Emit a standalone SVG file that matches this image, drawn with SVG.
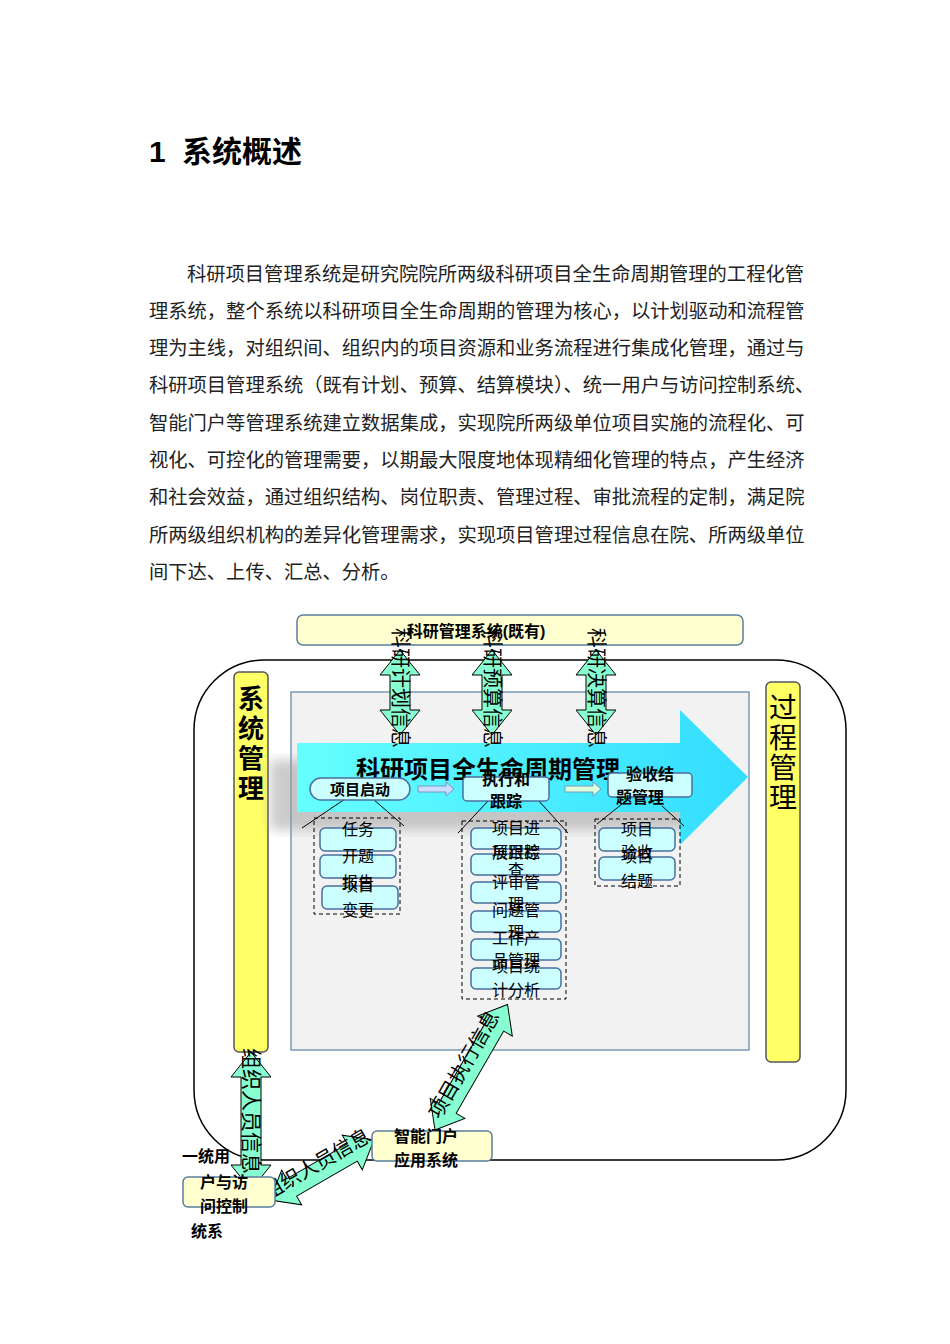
<svg xmlns="http://www.w3.org/2000/svg" width="950" height="1344" viewBox="0 0 950 1344">
<style>
.body{font-family:"Noto Sans CJK SC",serif;font-size:19.3px;fill:#222}
.t{font-family:"Liberation Sans","Noto Sans CJK SC",sans-serif;fill:#000}
.b{font-weight:bold}
.item{fill:#ccffff;stroke:#4a6fa0;stroke-width:1.5}
.arr{fill:#88ffd0;stroke:#000;stroke-width:1}
.dash{fill:none;stroke:#000;stroke-dasharray:4,3}
.ln{stroke:#000;stroke-width:1;fill:none}
.ybox{fill:#ffffd0;stroke:#5a7fa0;stroke-width:1.5}
</style>
<defs>
<linearGradient id="g" x1="0" x2="1"><stop offset="0" stop-color="#66ffff"/><stop offset="1" stop-color="#33ddff"/></linearGradient>
<filter id="sh"><feGaussianBlur stdDeviation="6"/></filter>
</defs>
<rect width="950" height="1344" fill="#fff"/>
<text x="149" y="162" class="t b" font-size="30">1</text>
<text x="182" y="162" class="t b" font-size="30">系统概述</text>
<g class="body">
<text x="187" y="281">科研项目管理系统是研究院院所两级科研项目全生命周期管理的工程化管</text>
<text x="149" y="318">理系统，整个系统以科研项目全生命周期的管理为核心，以计划驱动和流程管</text>
<text x="149" y="355">理为主线，对组织间、组织内的项目资源和业务流程进行集成化管理，通过与</text>
<text x="149" y="392">科研项目管理系统（既有计划、预算、结算模块）、统一用户与访问控制系统、</text>
<text x="149" y="430">智能门户等管理系统建立数据集成，实现院所两级单位项目实施的流程化、可</text>
<text x="149" y="467">视化、可控化的管理需要，以期最大限度地体现精细化管理的特点，产生经济</text>
<text x="149" y="504">和社会效益，通过组织结构、岗位职责、管理过程、审批流程的定制，满足院</text>
<text x="149" y="542">所两级组织机构的差异化管理需求，实现项目管理过程信息在院、所两级单位</text>
<text x="149" y="579">间下达、上传、汇总、分析。</text>
</g>
<g id="frame">
<rect x="194" y="660" width="652" height="500" rx="70" fill="none" stroke="#000" stroke-width="1.5"/>
<rect x="291" y="692" width="458" height="358" fill="#f2f2f2" stroke="#7a9ab8" stroke-width="1.5"/>
</g>
<g id="top-system">
<rect class="ybox" x="297" y="615" width="446" height="30" rx="6"/>
<text x="476" y="637" class="t b" font-size="16" text-anchor="middle">科研管理系统(既有)</text>
</g>
<g id="sys-mgmt">
<rect x="234" y="672" width="34" height="380" rx="5" fill="#ffff66" stroke="#555" stroke-width="1.5"/>
<text class="t b" font-size="26" text-anchor="middle"><tspan x="251" y="708">系</tspan><tspan x="251" y="738">统</tspan><tspan x="251" y="768">管</tspan><tspan x="251" y="798">理</tspan></text>
</g>
<g id="proc-mgmt">
<rect x="766" y="682" width="34" height="380" rx="5" fill="#ffff66" stroke="#555" stroke-width="1.5"/>
<text class="t" font-size="28" text-anchor="middle"><tspan x="783" y="718">过</tspan><tspan x="783" y="748">程</tspan><tspan x="783" y="778">管</tspan><tspan x="783" y="808">理</tspan></text>
</g>
<g id="lifecycle">
<rect x="270" y="760" width="420" height="70" fill="#999" opacity="0.5" filter="url(#sh)"/>
<polygon points="297,743 680,743 680,710 748,777 680,845 680,812 297,812" fill="url(#g)"/>
<text x="488" y="778" class="t b" font-size="24" text-anchor="middle">科研项目全生命周期管理</text>
</g>
<g id="connectors">
<polygon class="arr" points="400,650 420,675 410,675 410,710 420,710 400,735 380,710 390,710 390,675 380,675"/>
<polygon class="arr" points="492,650 512,675 502,675 502,710 512,710 492,735 472,710 482,710 482,675 472,675"/>
<polygon class="arr" points="596,650 616,675 606,675 606,710 616,710 596,735 576,710 586,710 586,675 576,675"/>
<polygon class="arr" points="251,1052 271,1077 261,1077 261,1165 271,1165 251,1190 231,1165 241,1165 241,1077 231,1077"/>
<polygon class="arr" transform="translate(270,1200) rotate(-30)" points="0,0 25,-20 25,-10 95,-10 95,-20 120,0 95,20 95,10 25,10 25,20"/>
<polygon class="arr" transform="translate(435,1130) rotate(-60)" points="0,0 25,-20 25,-10 120,-10 120,-20 145,0 120,20 120,10 25,10 25,20"/>
<polygon points="418,786 446,786 446,782 454,789 446,796 446,792 418,792" fill="#ccddff" stroke="#7a9ab8"/>
<polygon points="565,786 593,786 593,782 601,789 593,796 593,792 565,792" fill="#ddffdd" stroke="#7a9ab8"/>
<line class="ln" x1="345" y1="799" x2="302" y2="828"/><line class="ln" x1="373" y1="799" x2="404" y2="826"/>
<line class="ln" x1="489" y1="800" x2="458" y2="833"/><line class="ln" x1="538" y1="800" x2="568" y2="833"/>
<line class="ln" x1="632" y1="796" x2="597" y2="824"/><line class="ln" x1="662" y1="806" x2="684" y2="826"/>
<text class="t" font-size="20" transform="translate(393,628) rotate(90)">科研计划信息</text>
<text class="t" font-size="20" transform="translate(485,628) rotate(90)">科研预算信息</text>
<text class="t" font-size="20" transform="translate(589,628) rotate(90)">科研决算信息</text>
<text class="t" font-size="21" transform="translate(244,1048) rotate(90)">组织人员信息</text>
<text class="t" font-size="20" text-anchor="middle" transform="translate(320,1170) rotate(-30)">组织人员信息</text>
<text class="t" font-size="20" text-anchor="middle" transform="translate(470,1068) rotate(-60)">项目执行信息</text>
</g>
<g id="phase-start">
<rect class="item" x="310" y="778" width="100" height="22" rx="11"/>
<text x="360" y="795" class="t b" font-size="15" text-anchor="middle">项目启动</text>
</g>
<g id="phase-exec">
<rect class="item" x="463" y="777" width="86" height="24" rx="4"/>
<text class="t b" font-size="16" text-anchor="middle"><tspan x="506" y="785">执行和</tspan><tspan x="506" y="807">跟踪</tspan></text>
</g>
<g id="phase-accept">
<rect class="item" x="608" y="773" width="84" height="24" rx="4"/>
<text class="t b" font-size="16" text-anchor="middle"><tspan x="650" y="780">验收结</tspan><tspan x="640" y="803">题管理</tspan></text>
</g>
<g id="group-start">
<rect class="dash" x="314" y="818" width="86" height="96"/>
<rect class="item" x="320" y="828" width="76" height="23" rx="5"/>
<rect class="item" x="320" y="855" width="76" height="23" rx="5"/>
<rect class="item" x="322" y="886" width="76" height="23" rx="5"/>
<text class="t" font-size="16" text-anchor="middle"><tspan x="358" y="835">任务</tspan><tspan x="358" y="862">开题</tspan><tspan x="358" y="888">报告</tspan><tspan x="358" y="891">项目</tspan><tspan x="358" y="916">变更</tspan></text>
</g>
<g id="group-exec">
<rect class="dash" x="462" y="821" width="104" height="178"/>
<rect class="item" x="471" y="828" width="90" height="21" rx="5"/>
<rect class="item" x="471" y="854" width="90" height="21" rx="5"/>
<rect class="item" x="471" y="882" width="90" height="21" rx="5"/>
<rect class="item" x="471" y="911" width="90" height="21" rx="5"/>
<rect class="item" x="471" y="939" width="90" height="21" rx="5"/>
<rect class="item" x="471" y="968" width="90" height="21" rx="5"/>
<text class="t" font-size="16" text-anchor="middle"><tspan x="516" y="834">项目进</tspan><tspan x="516" y="858">展跟踪</tspan><tspan x="516" y="858">项目检</tspan><tspan x="516" y="876">查</tspan><tspan x="516" y="888">评审管</tspan><tspan x="516" y="910">理</tspan><tspan x="516" y="916">问题管</tspan><tspan x="516" y="938">理</tspan><tspan x="516" y="944">工作产</tspan><tspan x="516" y="966">品管理</tspan><tspan x="516" y="972">项目统</tspan><tspan x="516" y="996">计分析</tspan></text>
</g>
<g id="group-accept">
<rect class="dash" x="595" y="819" width="85" height="67"/>
<rect class="item" x="599" y="828" width="76" height="23" rx="5"/>
<rect class="item" x="599" y="857" width="76" height="23" rx="5"/>
<text class="t" font-size="16" text-anchor="middle"><tspan x="637" y="835">项目</tspan><tspan x="637" y="858">验收</tspan><tspan x="637" y="862">项目</tspan><tspan x="637" y="887">结题</tspan></text>
</g>
<g id="portal">
<rect class="ybox" x="372" y="1131" width="120" height="30" rx="5"/>
<text class="t b" font-size="16"><tspan x="394" y="1142">智能门户</tspan><tspan x="394" y="1166">应用系统</tspan></text>
</g>
<g id="uac">
<rect class="ybox" x="183" y="1177" width="92" height="30" rx="5"/>
<text class="t b" font-size="16"><tspan x="182" y="1162">一统用</tspan><tspan x="200" y="1188">户与访</tspan><tspan x="200" y="1212">问控制</tspan><tspan x="191" y="1237">统系</tspan></text>
</g>
</svg>
